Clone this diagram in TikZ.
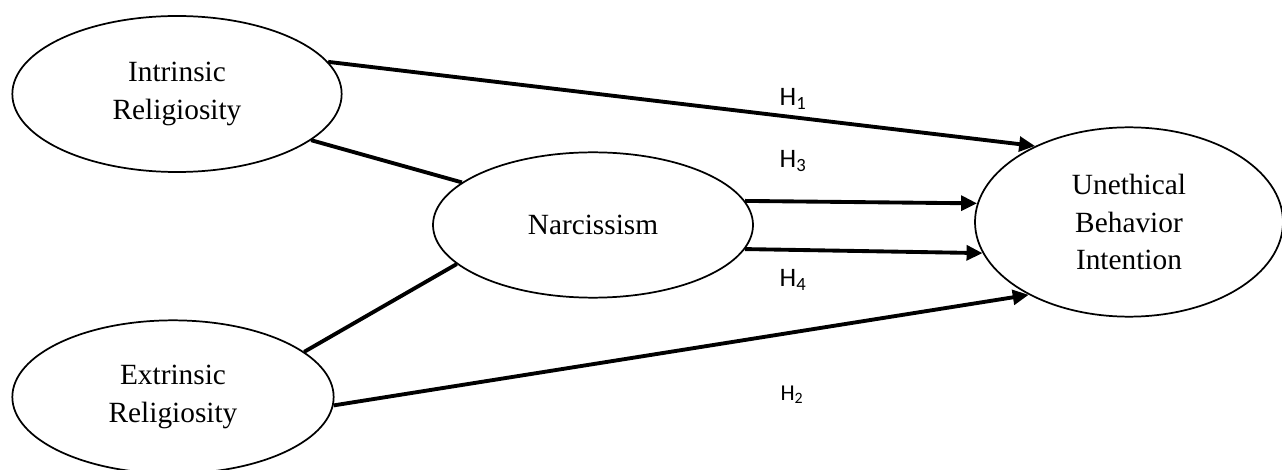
\documentclass[tikz,border=0pt]{standalone}
\usepackage{fontspec}
\setmainfont{Liberation Serif}
\newfontfamily\hfont{Carlito}
\usetikzlibrary{shapes.geometric,arrows.meta}

\tikzset{
  construct/.style={draw,ellipse,line width=1.3pt,inner sep=0pt,align=center,
    font=\fontsize{22}{28}\selectfont},
  link/.style={line width=2.9pt},
  hyp/.style={link,-{Triangle[length=12pt,width=11pt]}},
  hlabel/.style={font=\hfont\fontsize{20}{23}\selectfont}
}

\begin{document}
\begin{tikzpicture}[x=0.75pt,y=-0.75pt]
  \useasboundingbox (0,0) rectangle (1282,470);
  \clip (0,0) rectangle (1282,470);

  % constructs
  \node[construct,minimum width=247pt,minimum height=117pt] (intr) at (177,94) {Intrinsic\\Religiosity};
  \node[construct,minimum width=241pt,minimum height=115pt] (extr) at (173,397) {Extrinsic\\Religiosity};
  \node[construct,minimum width=240pt,minimum height=109pt] (narc) at (593,225) {Narcissism};
  \node[construct,minimum width=231pt,minimum height=142pt] (ubi) at (1129,222) {Unethical\\Behavior\\Intention};

  % correlations with narcissism
  \draw[link] (intr.-19) -- (narc.162);
  \draw[link] (extr.19) -- (narc.-164);

  % hypotheses
  \draw[hyp] (intr.12) -- (ubi.141);
  \draw[hyp] (narc.9) -- (ubi.173);
  \draw[hyp] (narc.-9) -- (ubi.-168);
  \draw[hyp] (extr.-3) -- (ubi.-144);

  \node[hlabel] (h1) at (793,99) {H\textsubscript{1}};
  \node[hlabel] (h3) at (793,161) {H\textsubscript{3}};
  \node[hlabel] (h4) at (793,280) {H\textsubscript{4}};
  \node[hlabel,font=\hfont\fontsize{17}{20}\selectfont] (h2) at (792,395) {H\textsubscript{2}};
\end{tikzpicture}
\end{document}
